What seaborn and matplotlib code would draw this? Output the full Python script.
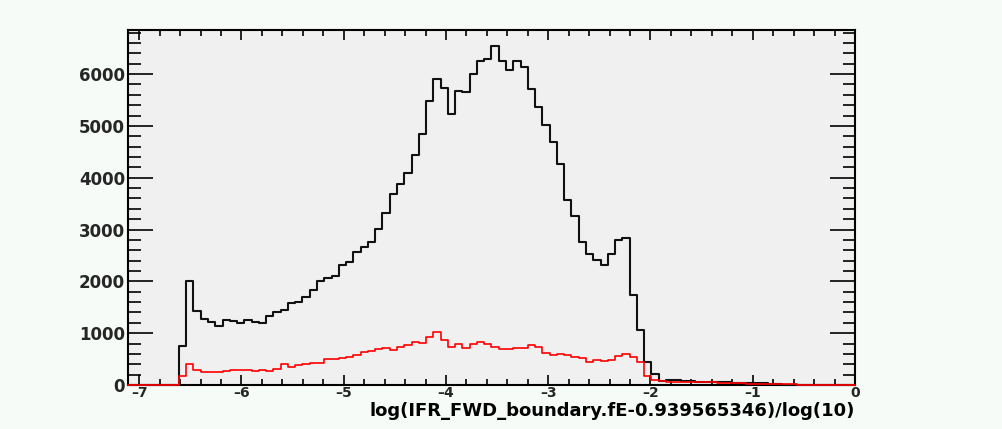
import numpy as np
import pandas as pd
import matplotlib
matplotlib.use("Agg")
import matplotlib.pyplot as plt
import seaborn as sns
from matplotlib.ticker import MultipleLocator

# ---- data (bin contents) ----
x_min, x_max, n_bins = -7.11, 0.0, 100

black_counts = [
    0, 0, 0, 0, 0, 0, 0, 761, 2013, 1432,
    1271, 1219, 1142, 1245, 1226, 1200, 1245, 1213, 1194, 1335,
    1413, 1438, 1574, 1606, 1690, 1838, 2013, 2058, 2097, 2316,
    2380, 2561, 2658, 2761, 3013, 3316, 3690, 3871, 4097, 4432,
    4845, 5477, 5897, 5729, 5222, 5668, 5660, 6000, 6258, 6290,
    6535, 6258, 6077, 6245, 6129, 5713, 5365, 5013, 4693, 4255,
    3567, 3258, 2755, 2535, 2419, 2310, 2535, 2794, 2839, 1735,
    1055, 452, 213, 84, 90, 90, 77, 77, 64, 64,
    64, 52, 52, 39, 39, 32, 32, 32, 26, 20,
    0, 0, 0, 0, 0, 0, 0, 0, 0, 0,
]

red_counts = [
    0, 0, 0, 0, 0, 0, 0, 181, 413, 290,
    258, 245, 245, 271, 297, 284, 297, 271, 290, 277,
    303, 400, 355, 381, 400, 426, 430, 497, 510, 523,
    535, 580, 645, 665, 690, 710, 677, 735, 765, 839,
    819, 922, 1016, 871, 735, 794, 710, 790, 822, 800,
    729, 697, 697, 710, 710, 774, 726, 613, 580, 600,
    580, 548, 529, 445, 474, 465, 478, 558, 597, 532,
    452, 180, 90, 77, 58, 58, 58, 58, 55, 55,
    55, 45, 45, 32, 32, 22, 22, 22, 22, 22,
    22, 22, 0, 0, 0, 0, 0, 0, 0, 0,
]

x_label = "log(IFR_FWD_boundary.fE-0.939565346)/log(10)"
y_ticks = [0, 1000, 2000, 3000, 4000, 5000, 6000]
x_ticks = [-7, -6, -5, -4, -3, -2, -1, 0]
y_max = 6850

edges = np.linspace(x_min, x_max, n_bins + 1)
centers = 0.5 * (edges[:-1] + edges[1:])
df_all = pd.DataFrame({"x": centers, "w": np.asarray(black_counts, dtype=float)})
df_sel = pd.DataFrame({"x": centers, "w": np.asarray(red_counts, dtype=float)})

# ---- style ----
sns.set_style("ticks")
plt.rcParams["font.family"] = ["DejaVu Sans"]

W, H = 1003, 429
fig = plt.figure(figsize=(W / 100, H / 100), dpi=100)
bg = "#f6fbf7"
fig.patch.set_facecolor(bg)
ax = fig.add_axes([128 / W, (H - 385) / H, (855 - 128) / W, (385 - 30) / H])
ax.set_facecolor("#f0f0f0")

sns.histplot(data=df_all, x="x", weights="w", bins=n_bins, binrange=(x_min, x_max),
             element="step", fill=False, color="#111111", linewidth=1.5, ax=ax)
sns.histplot(data=df_sel, x="x", weights="w", bins=n_bins, binrange=(x_min, x_max),
             element="step", fill=False, color="#ff0000", linewidth=1.2, ax=ax)
for ln in ax.lines + list(ax.patches) + list(ax.collections):
    ln.set_zorder(3)
    ln.set_clip_on(False)

ax.set_xlim(x_min, x_max)
ax.set_ylim(0, y_max)
ax.set_xlabel("")
ax.set_ylabel("")

ax.set_xticks(x_ticks)
ax.set_xticklabels(["\u2013" + str(abs(v)) if v < 0 else str(v) for v in x_ticks])
ax.xaxis.set_minor_locator(MultipleLocator(0.2))
ax.set_yticks(y_ticks)
ax.set_yticklabels([str(v) for v in y_ticks])
ax.yaxis.set_minor_locator(MultipleLocator(200))

ax.tick_params(axis="both", which="both", direction="in", top=True, right=True,
               color="black", width=1.2)
ax.tick_params(axis="x", which="major", length=7, pad=1, labelsize=10)
ax.tick_params(axis="x", which="minor", length=4)
ax.tick_params(axis="y", which="major", length=18, pad=2, labelsize=12)
ax.tick_params(axis="y", which="minor", length=9)
for lab in ax.get_xticklabels() + ax.get_yticklabels():
    lab.set_fontweight("bold")

for s in ax.spines.values():
    s.set_visible(True)
    s.set_color("black")
    s.set_linewidth(1.5)
    s.set_zorder(2.5)

fig.text(855 / W, 1 - 411 / H, x_label, ha="right", va="center",
         fontsize=13, fontweight="bold", color="black")

fig.savefig("out.png", dpi=100, facecolor=bg)
